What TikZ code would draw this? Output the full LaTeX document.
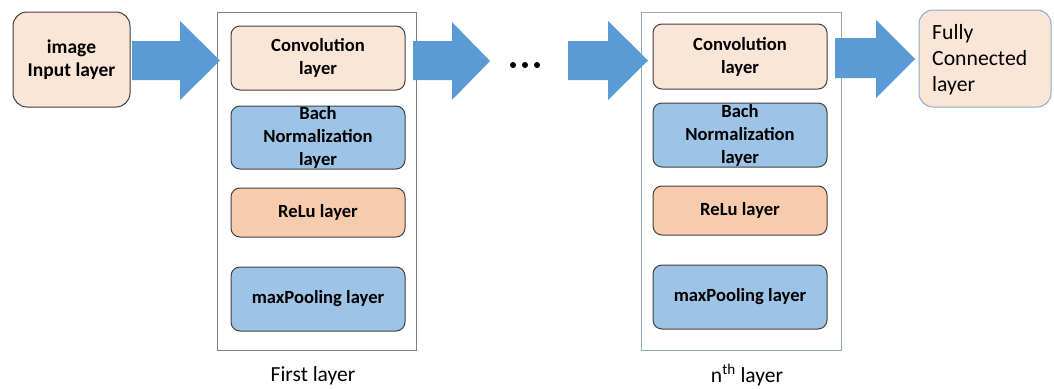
\documentclass[tikz,border=0pt]{standalone}
\usepackage{fontspec}
\setmainfont{Carlito}
\definecolor{arrowblue}{HTML}{5B9BD5}
\definecolor{peachlight}{HTML}{FBE5D6}
\definecolor{peachmid}{HTML}{F8CBAD}
\definecolor{bluebox}{HTML}{9DC3E6}
\definecolor{boxedge}{HTML}{404040}
\definecolor{frameone}{HTML}{7F7F7F}
\definecolor{frametwo}{HTML}{8EAACB}
\begin{document}
\begin{tikzpicture}[x=1pt,y=-1pt,
  layerbox/.style={draw=boxedge, line width=1pt, rounded corners=9pt, minimum width=174pt, align=center, inner sep=0pt, font=\fontsize{18.6}{23}\selectfont\bfseries},
  framebox/.style={draw, line width=1pt, minimum width=199pt, minimum height=338pt, inner sep=0pt},
  bigarrow/.style={fill=arrowblue},
  caption/.style={font=\fontsize{21.5}{24}\selectfont}]
\useasboundingbox (0,0) rectangle (1054,388);
% frames
\node[framebox, draw=frameone] (frame1) at (316.5,181) {};
\node[framebox, draw=frametwo, minimum width=200pt] (frame2) at (741,181) {};
% input
\node[layerbox, fill=peachlight, minimum width=117pt, minimum height=95pt, rounded corners=14pt, font=\fontsize{19.5}{23}\selectfont\bfseries] (input) at (71.5,59.5) {image\\Input layer};
% first layer
\node[layerbox, fill=peachlight, minimum height=64pt] (conv1) at (318,58) {Convolution\\layer};
\node[layerbox, fill=bluebox, minimum height=63pt] (bn1) at (318,137.5) {Bach\\Normalization\\layer};
\node[layerbox, fill=peachmid, minimum height=49pt] (relu1) at (318,212.5) {ReLu layer};
\node[layerbox, fill=bluebox, minimum height=64pt] (pool1) at (318,299) {maxPooling layer};
% nth layer
\node[layerbox, fill=peachlight, minimum height=65pt] (conv2) at (740,56.5) {Convolution\\layer};
\node[layerbox, fill=bluebox, minimum height=64pt] (bn2) at (740,135) {Bach\\Normalization\\layer};
\node[layerbox, fill=peachmid, minimum height=49pt] (relu2) at (740,210.5) {ReLu layer};
\node[layerbox, fill=bluebox, minimum height=64pt] (pool2) at (740,297) {maxPooling layer};
% fully connected
\node[draw=frametwo, line width=1pt, fill=peachlight, rounded corners=14pt, minimum width=132pt, minimum height=97pt, inner sep=0pt] (fc) at (985,58.5) {};
\node[anchor=north west, align=left, inner sep=0pt, font=\fontsize{21.7}{26}\selectfont] (fctext) at (932,24) {Fully\\Connected\\layer};
% block arrows
\fill[bigarrow] (132,41) -- (180,41) -- (180,21) -- (220,60.5) -- (180,100) -- (180,80) -- (132,80) -- cycle;
\fill[bigarrow] (413,41) -- (452,41) -- (452,22) -- (490,61) -- (452,100) -- (452,80) -- (413,80) -- cycle;
\fill[bigarrow] (568,41) -- (608,41) -- (608,21) -- (648,60.5) -- (608,100) -- (608,80) -- (568,80) -- cycle;
\fill[bigarrow] (835,38) -- (876,38) -- (876,20) -- (915,59) -- (876,98) -- (876,78) -- (835,78) -- cycle;
% dots
\fill (513,65) circle (3pt);
\fill (525,65) circle (3pt);
\fill (537,65) circle (3pt);
% captions
\node[caption] (lab1) at (313,376) {First layer};
\node[caption] (lab2) at (747,375) {n\textsuperscript{th} layer};
\end{tikzpicture}
\end{document}
